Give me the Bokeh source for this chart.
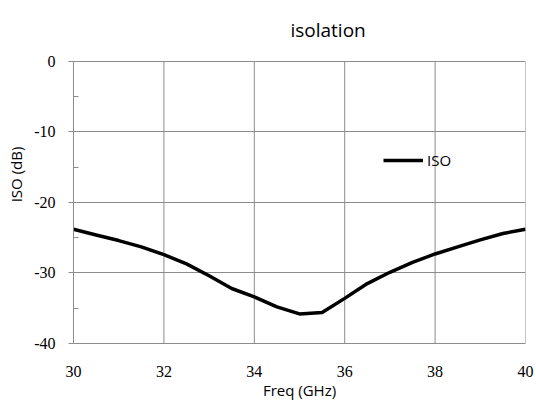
from bokeh.plotting import figure
from bokeh.models import FixedTicker, Range1d, Legend, LegendItem, Label
from bokeh.embed import file_html
from bokeh.resources import INLINE

freq = [30, 30.5, 31, 31.5, 32, 32.5, 33, 33.5, 34, 34.5, 35, 35.5, 36, 36.5, 37, 37.5, 38, 38.5, 39, 39.5, 40]
iso = [-23.8, -24.6, -25.4, -26.3, -27.4, -28.7, -30.4, -32.2, -33.4, -34.8, -35.8, -35.6, -33.6, -31.5, -29.9, -28.5, -27.3, -26.3, -25.3, -24.4, -23.8]
x_ticks = [30, 32, 34, 36, 38, 40]
y_ticks = [0, -10, -20, -30, -40]
y_minor = [-5, -15, -25, -35]
y_tick_labels = {0: "0", -10: "-10", -20: "-20", -30: "-30", -40: "-40"}
y_lo, y_hi = -40, 0

# the frame is extended above 0 dB to hold the title; data area stays -40..0
p = figure(width=536, height=405, output_backend="svg", toolbar_location=None,
           x_range=Range1d(30, 40), y_range=Range1d(-40, 7.943),
           min_border_left=73, min_border_right=11, min_border_top=5, min_border_bottom=62)
p.outline_line_color = None
p.background_fill_color = "white"

# vertical grid lines limited to the data area
p.xgrid.visible = False
p.segment(x0=x_ticks, y0=[y_lo] * len(x_ticks), x1=x_ticks, y1=[y_hi] * len(x_ticks),
          line_color="#8c8c8c", line_width=1)

r = p.line(freq, iso, line_color="black", line_width=3.5)

p.add_layout(Label(x=34.80, y=4.40, text="isolation", text_align="left", text_baseline="alphabetic",
                   text_font="Open Sans", text_font_size="19px", text_color="black"))

serif = "Liberation Serif"
p.xaxis.ticker = FixedTicker(ticks=x_ticks)
p.yaxis.ticker = FixedTicker(ticks=y_ticks, minor_ticks=y_minor)
p.yaxis.major_label_overrides = y_tick_labels
p.yaxis.bounds = (y_lo, y_hi)
for ax in (p.xaxis, p.yaxis):
    ax.axis_line_color = "#8c8c8c"
    ax.major_label_text_font = serif
    ax.major_label_text_font_size = "16px"
    ax.major_label_text_color = "black"
    ax.axis_label_text_font = "Open Sans"
    ax.axis_label_text_font_size = "15px"
    ax.axis_label_text_font_style = "normal"
    ax.axis_label_text_color = "black"
p.xaxis.major_tick_line_color = None
p.xaxis.minor_tick_line_color = None
p.xaxis.major_label_standoff = 16
p.xaxis.axis_label = "Freq (GHz)"
p.xaxis.axis_label_standoff = 0
p.yaxis.major_tick_line_color = "#8c8c8c"
p.yaxis.major_tick_out = 5
p.yaxis.major_tick_in = 0
p.yaxis.minor_tick_line_color = "#8c8c8c"
p.yaxis.minor_tick_in = 5
p.yaxis.minor_tick_out = 0
p.yaxis.major_label_standoff = 13
p.yaxis.axis_label = "ISO (dB)"
p.yaxis.axis_label_standoff = 5

p.ygrid.grid_line_color = "#8c8c8c"
p.ygrid.grid_line_width = 1

legend = Legend(items=[LegendItem(label="ISO", renderers=[r])], location=(310, 173),
                glyph_width=40, glyph_height=20, padding=0, margin=0, label_standoff=4,
                border_line_color=None, background_fill_alpha=0,
                label_text_font="Open Sans", label_text_font_size="15px", label_text_color="black")
p.add_layout(legend, "center")

open("out.html", "w").write(file_html(p, INLINE))
